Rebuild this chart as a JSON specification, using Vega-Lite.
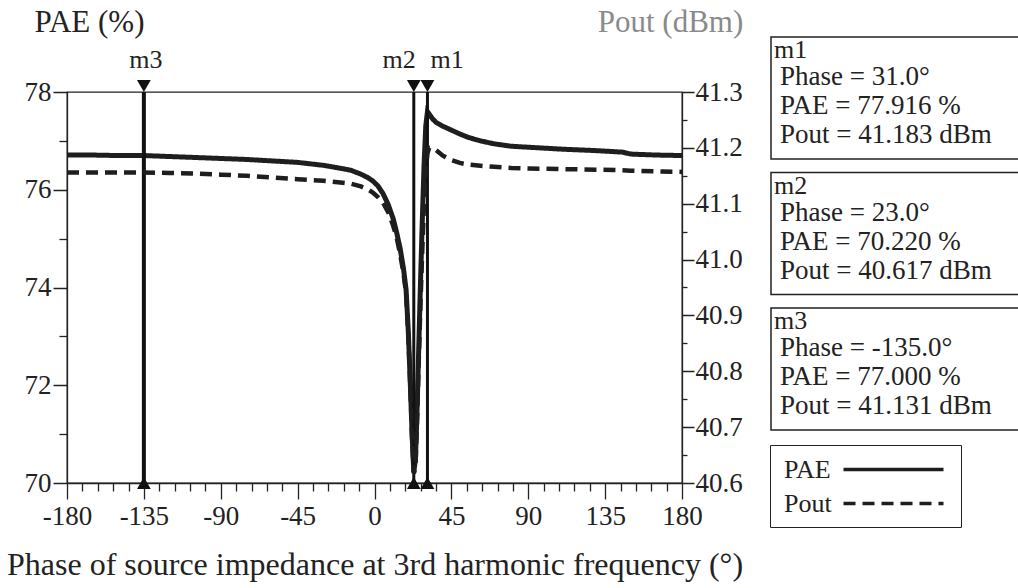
{
  "$schema": "https://vega.github.io/schema/vega-lite/v6.json",
  "background": "white",
  "autosize": {"type": "pad"},
  "padding": {"left": 5, "top": 5, "right": 0, "bottom": 4},
  "config": {
    "font": "Liberation Serif",
    "axis": {"labelFont": "Liberation Serif", "titleFont": "Liberation Serif", "labelFontSize": 27, "titleFontSize": 31, "titleFontWeight": "normal", "labelColor": "#222", "titleColor": "#222", "domainColor": "#222", "tickColor": "#222", "grid": false, "labelOverlap": false, "labelFlush": false, "domainWidth": 1.3, "tickWidth": 1.3},
    "legend": {"labelFont": "Liberation Serif", "labelFontSize": 26, "labelColor": "#222"},
    "text": {"font": "Liberation Serif", "color": "#222"},
    "concat": {"spacing": 26}
  },
  "datasets": {
    "curves": [
      {"phase": -180, "pae": 76.71, "pout": 41.156},
      {"phase": -165, "pae": 76.71, "pout": 41.156},
      {"phase": -150, "pae": 76.70, "pout": 41.156},
      {"phase": -135, "pae": 76.70, "pout": 41.156},
      {"phase": -120, "pae": 76.68, "pout": 41.155},
      {"phase": -105, "pae": 76.66, "pout": 41.154},
      {"phase": -90, "pae": 76.64, "pout": 41.152},
      {"phase": -75, "pae": 76.62, "pout": 41.150},
      {"phase": -60, "pae": 76.59, "pout": 41.147},
      {"phase": -45, "pae": 76.56, "pout": 41.144},
      {"phase": -30, "pae": 76.50, "pout": 41.141},
      {"phase": -20, "pae": 76.44, "pout": 41.138},
      {"phase": -14, "pae": 76.40, "pout": 41.136},
      {"phase": -8, "pae": 76.32, "pout": 41.131},
      {"phase": -4, "pae": 76.25, "pout": 41.126},
      {"phase": -1, "pae": 76.18, "pout": 41.120},
      {"phase": 2, "pae": 76.08, "pout": 41.112},
      {"phase": 5, "pae": 75.92, "pout": 41.102},
      {"phase": 8, "pae": 75.70, "pout": 41.085},
      {"phase": 11, "pae": 75.40, "pout": 41.060},
      {"phase": 13, "pae": 75.12, "pout": 41.039},
      {"phase": 15, "pae": 74.80, "pout": 41.010},
      {"phase": 17, "pae": 74.38, "pout": 40.975},
      {"phase": 18.5, "pae": 73.95, "pout": 40.940},
      {"phase": 19.8, "pae": 73.10, "pout": 40.865},
      {"phase": 21, "pae": 72.00, "pout": 40.770},
      {"phase": 22, "pae": 71.00, "pout": 40.680},
      {"phase": 23, "pae": 70.22, "pout": 40.617},
      {"phase": 24, "pae": 70.50, "pout": 40.630},
      {"phase": 25, "pae": 71.60, "pout": 40.720},
      {"phase": 26, "pae": 72.90, "pout": 40.830},
      {"phase": 27, "pae": 74.20, "pout": 40.930},
      {"phase": 28, "pae": 75.40, "pout": 41.020},
      {"phase": 29, "pae": 76.50, "pout": 41.100},
      {"phase": 30, "pae": 77.30, "pout": 41.160},
      {"phase": 31, "pae": 77.60, "pout": 41.190},
      {"phase": 32, "pae": 77.55, "pout": 41.200},
      {"phase": 34, "pae": 77.45, "pout": 41.199},
      {"phase": 36, "pae": 77.38, "pout": 41.196},
      {"phase": 40, "pae": 77.30, "pout": 41.186},
      {"phase": 45, "pae": 77.22, "pout": 41.178},
      {"phase": 50, "pae": 77.14, "pout": 41.173},
      {"phase": 55, "pae": 77.07, "pout": 41.170},
      {"phase": 62, "pae": 77.00, "pout": 41.168},
      {"phase": 70, "pae": 76.94, "pout": 41.166},
      {"phase": 80, "pae": 76.89, "pout": 41.164},
      {"phase": 90, "pae": 76.87, "pout": 41.163},
      {"phase": 110, "pae": 76.83, "pout": 41.162},
      {"phase": 130, "pae": 76.80, "pout": 41.161},
      {"phase": 145, "pae": 76.77, "pout": 41.160},
      {"phase": 150, "pae": 76.73, "pout": 41.159},
      {"phase": 165, "pae": 76.71, "pout": 41.158},
      {"phase": 180, "pae": 76.70, "pout": 41.157}
    ],
    "markers": [
      {"marker": "m1", "phase": 31.0, "pae": 77.916, "pout": 41.183},
      {"marker": "m2", "phase": 23.0, "pae": 70.220, "pout": 40.617},
      {"marker": "m3", "phase": -135.0, "pae": 77.000, "pout": 41.131}
    ]
  },
  "hconcat": [
    {
      "width": 615,
      "height": 391,
      "view": {"stroke": "#222", "strokeWidth": 1.3},
      "resolve": {"scale": {"y": "independent"}},
      "layer": [
        {
          "encoding": {
            "x": {
              "field": "phase", "type": "quantitative",
              "scale": {"domain": [-180, 180], "nice": false, "zero": false},
              "axis": {
                "orient": "bottom",
                "values": [-180, -171, -162, -153, -144, -135, -126, -117, -108, -99, -90, -81, -72, -63, -54, -45, -36, -27, -18, -9, 0, 9, 18, 27, 36, 45, 54, 63, 72, 81, 90, 99, 108, 117, 126, 135, 144, 153, 162, 171, 180],
                "tickCount": 200,
                "labelExpr": "datum.value % 45 == 0 ? replace(format(datum.value, 'd'), '\u2212', '-') : ''",
                "labelOverlap": false, "labelFlush": false,
                "tickSize": 16,
                "tickDash": {"condition": {"test": "datum.value % 45 != 0", "value": [8, 60]}, "value": [1, 0]},
                "labelPadding": 4,
                "title": "Phase of source impedance at 3rd harmonic frequency (°)",
                "titleFontSize": 32,
                "titlePadding": 20
              }
            }
          },
          "layer": [
            {
              "data": {"name": "curves"},
              "mark": {"type": "line", "strokeWidth": 5, "color": "#1e1e1e"},
              "encoding": {
                "y": {
                  "field": "pae", "type": "quantitative",
                  "scale": {"domain": [70, 78], "nice": false, "zero": false},
                  "axis": {
                    "orient": "left",
                    "values": [70, 71, 72, 73, 74, 75, 76, 77, 78],
                    "tickCount": 200,
                    "labelExpr": "datum.value % 2 == 0 ? format(datum.value, 'd') : ''",
                    "labelOverlap": false,
                    "tickSize": 14,
                    "tickDash": {"condition": {"test": "datum.value % 2 != 0", "value": [8, 60]}, "value": [1, 0]},
                    "labelPadding": 2,
                    "title": "PAE (%)",
                    "titleAngle": 0, "titleAlign": "center", "titleBaseline": "middle",
                    "titleX": 22, "titleY": -70
                  }
                },
                "strokeDash": {
                  "datum": "PAE", "type": "nominal",
                  "scale": {"domain": ["PAE", "Pout"], "range": [[1, 0], [12, 7]]},
                  "legend": {
                    "title": null, "orient": "none", "legendX": 703, "legendY": 353,
                    "strokeColor": "#222", "padding": 10, "fillColor": "white",
                    "symbolType": "M-4,0L4,0", "symbolSize": 625, "symbolStrokeWidth": 3.5, "symbolStrokeColor": "#222",
                    "symbolOffset": 99, "labelOffset": -124, "rowPadding": 6
                  }
                }
              }
            },
            {
              "data": {"name": "markers"},
              "mark": {"type": "rule", "color": "#111"},
              "encoding": {
                "strokeWidth": {"condition": {"test": "datum.marker == 'm3'", "value": 4}, "value": 3}
              }
            },
            {
              "data": {"name": "markers"},
              "mark": {"type": "point", "shape": "triangle-down", "filled": true, "size": 190, "color": "#111", "opacity": 1},
              "encoding": {"y": {"datum": 78, "type": "quantitative"}, "yOffset": {"value": -6}}
            },
            {
              "data": {"name": "markers"},
              "mark": {"type": "point", "shape": "triangle-up", "filled": true, "size": 190, "color": "#111", "opacity": 1},
              "encoding": {"y": {"datum": 70, "type": "quantitative"}}
            },
            {
              "data": {"name": "markers"},
              "transform": [{"filter": "datum.marker == 'm3'"}],
              "mark": {"type": "text", "fontSize": 26, "align": "center", "baseline": "middle", "dy": -32, "dx": 2},
              "encoding": {"y": {"datum": 78, "type": "quantitative"}, "text": {"field": "marker"}}
            },
            {
              "data": {"name": "markers"},
              "transform": [{"filter": "datum.marker == 'm2'"}],
              "mark": {"type": "text", "fontSize": 26, "align": "right", "baseline": "middle", "dy": -32, "dx": 2},
              "encoding": {"y": {"datum": 78, "type": "quantitative"}, "text": {"field": "marker"}}
            },
            {
              "data": {"name": "markers"},
              "transform": [{"filter": "datum.marker == 'm1'"}],
              "mark": {"type": "text", "fontSize": 26, "align": "left", "baseline": "middle", "dy": -32, "dx": 3},
              "encoding": {"y": {"datum": 78, "type": "quantitative"}, "text": {"field": "marker"}}
            }
          ]
        },
        {
          "data": {"name": "curves"},
          "mark": {"type": "line", "strokeWidth": 4.5, "color": "#1e1e1e"},
          "encoding": {
            "x": {"field": "phase", "type": "quantitative"},
            "y": {
              "field": "pout", "type": "quantitative",
              "scale": {"domain": [40.6, 41.3], "nice": false, "zero": false},
              "axis": {
                "orient": "right",
                "values": [40.6, 40.65, 40.7, 40.75, 40.8, 40.85, 40.9, 40.95, 41.0, 41.05, 41.1, 41.15, 41.2, 41.25, 41.3],
                "tickCount": 200,
                "labelExpr": "abs(datum.value * 10 - round(datum.value * 10)) < 0.01 ? format(datum.value, '.1f') : ''",
                "labelOverlap": false,
                "tickSize": 12,
                "tickDash": {"condition": {"test": "abs(datum.value * 10 - round(datum.value * 10)) > 0.01", "value": [5, 60]}, "value": [1, 0]},
                "labelPadding": 1,
                "title": "Pout (dBm)",
                "titleColor": "#8a8a8a",
                "titleAngle": 0, "titleAlign": "center", "titleBaseline": "middle",
                "titleX": -12, "titleY": -70
              }
            },
            "strokeDash": {"datum": "Pout", "type": "nominal"}
          }
        }
      ]
    },
    {
      "width": 248,
      "height": 391,
      "view": {"stroke": null},
      "data": {"name": "markers"},
      "transform": [
        {"calculate": "'Phase = ' + replace(format(datum.phase, '.1f'), '\u2212', '-') + '°\\nPAE = ' + format(datum.pae, '.3f') + ' %\\nPout = ' + format(datum.pout, '.3f') + ' dBm'", "as": "details"}
      ],
      "encoding": {
        "y": {"field": "marker", "type": "nominal", "sort": ["m1", "m2", "m3"], "scale": {"range": [-55, 338], "paddingInner": 0.1, "paddingOuter": 0}, "axis": null}
      },
      "layer": [
        {"mark": {"type": "rect", "fill": "white", "stroke": "#222", "strokeWidth": 1.5}},
        {
          "mark": {"type": "text", "x": 0, "align": "left", "baseline": "top", "dx": 3, "dy": 0, "fontSize": 26},
          "encoding": {"y": {"field": "marker", "type": "nominal", "bandPosition": 0}, "text": {"field": "marker"}}
        },
        {
          "mark": {"type": "text", "x": 0, "align": "left", "baseline": "top", "dx": 9, "dy": 27, "fontSize": 27, "lineBreak": "\n", "lineHeight": 29},
          "encoding": {"y": {"field": "marker", "type": "nominal", "bandPosition": 0}, "text": {"field": "details"}}
        }
      ]
    }
  ]
}
